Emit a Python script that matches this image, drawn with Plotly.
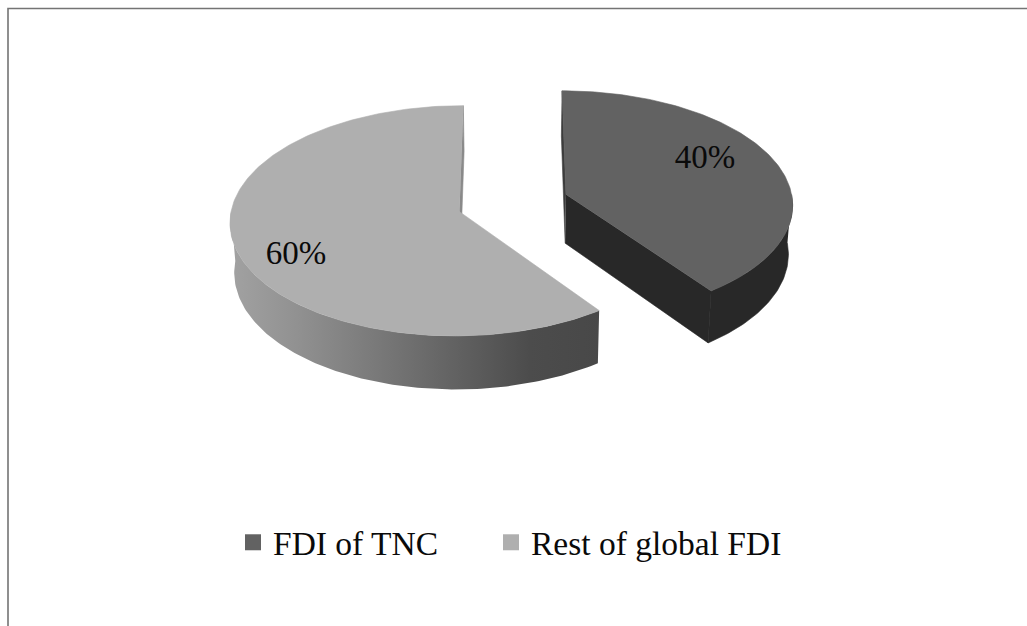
import numpy as np
import plotly.graph_objects as go

# ---- chart data ----
categories = ["FDI of TNC", "Rest of global FDI"]
values = [40, 60]
top_colors = ["#626262", "#afafaf"]
label_pos = [(705, 160), (296, 256)]

# ---- pseudo-3D pie projection ----
CX, CY = 513.0, 203.0
R = 227.0
EXPLODE = 56.0
K, P = 0.498, 0.000346
H = 49.0
BOTTOM_SCALE = 0.985


def project(a_deg, r, mid_deg, bottom=False):
    """Angle clockwise from the back of the pie, projected to the page."""
    a, m = np.radians(a_deg), np.radians(mid_deg)
    X = EXPLODE * np.sin(m) + r * np.sin(a)
    Z = -EXPLODE * np.cos(m) - r * np.cos(a)
    s = 1.0 / (1.0 - P * Z)
    x = CX + X * s
    y = CY + K * Z * s
    if bottom:
        x = CX + (x - CX) * BOTTOM_SCALE
        y = y + H * s
    return x, y


def poly(fig, xs, ys, color, **kw):
    fig.add_trace(go.Scatter(
        x=list(xs), y=list(ys), mode="lines", fill="toself", fillcolor=color,
        line=dict(color=color, width=0.6), hoverinfo="skip", showlegend=False, **kw))


fig = go.Figure()

total = sum(values)
spans = []
start = 0.0
for v in values:
    end = start + 360.0 * v / total
    spans.append((start, end, (start + end) / 2))
    start = end

# ---- FDI of TNC slice (dark) ----
a0, a1, mid = spans[0]
ax, ay = project(0, 0, mid)
bx, by = project(0, 0, mid, True)
p0 = project(a0, R, mid)
p1 = project(a0, R, mid, True)
poly(fig, [ax, p0[0], p1[0], bx], [ay, p0[1], p1[1], by], "#3c3c3c")
q = project(a1, R, mid)
qb = project(a1, R, mid, True)
poly(fig, [ax, q[0], qb[0], bx], [ay, q[1], qb[1], by], "#282828")
ang = np.arange(90, a1 + 0.01, 1.0)
t = project(ang, R, mid)
b = project(ang, R, mid, True)
poly(fig, np.r_[t[0], b[0][::-1]], np.r_[t[1], b[1][::-1]], "#282828")
ang = np.arange(a0, a1 + 0.01, 1.0)
t = project(ang, R, mid)
poly(fig, np.r_[ax, t[0]], np.r_[ay, t[1]], top_colors[0])

# ---- Rest of global FDI slice (light) ----
a0, a1, mid = spans[1]
ax, ay = project(0, 0, mid)
bx, by = project(0, 0, mid, True)
p0 = project(a1, R, mid)
p1 = project(a1, R, mid, True)
poly(fig, [ax, p0[0], p1[0], bx], [ay, p0[1], p1[1], by], "#8a8a8a")
# shaded arc wall with a horizontal gradient
ang = np.arange(a0, 270.01, 1.0)
t = project(ang, R, mid)
b = project(ang, R, mid, True)
fig.add_trace(go.Scatter(
    x=list(np.r_[t[0], b[0][::-1]]), y=list(np.r_[t[1], b[1][::-1]]),
    mode="lines", fill="toself", line=dict(width=0),
    fillgradient=dict(
        type="horizontal", start=230, stop=600,
        colorscale=[[0.0, "#a2a2a2"], [0.19, "#909090"], [0.46, "#727272"],
                    [0.81, "#4c4c4c"], [1.0, "#484848"]]),
    hoverinfo="skip", showlegend=False))
ang = np.arange(a0, a1 + 0.01, 1.0)
t = project(ang, R, mid)
poly(fig, np.r_[ax, t[0]], np.r_[ay, t[1]], top_colors[1])

# ---- percentage labels ----
for v, (lx, ly) in zip(values, label_pos):
    fig.add_trace(go.Scatter(
        x=[lx], y=[ly], mode="text", text=[f"{v}%"], hoverinfo="skip",
        textfont=dict(family="Liberation Serif", size=33, color="#0a0a0a"),
        showlegend=False))

# ---- legend entries, one legend each so they can sit where the reference has them ----
legend_ids = ["legend", "legend2"]
for name, col, lid in zip(categories, top_colors, legend_ids):
    fig.add_trace(go.Scatter(
        x=[None], y=[None], mode="markers", name=name, legend=lid,
        marker=dict(symbol="square", size=16, color=col)))

# ---- picture frame ----
frame_x = [8, 8, 1027]
frame_y = [626, 8.5, 8.5]
fig.add_trace(go.Scatter(x=frame_x, y=frame_y, mode="lines",
                         line=dict(color="#747474", width=1.6),
                         hoverinfo="skip", showlegend=False))

legend_font = dict(family="Liberation Serif", size=33.5, color="#0a0a0a")
common = dict(xanchor="left", yanchor="top", font=legend_font,
              bgcolor="rgba(0,0,0,0)", itemclick=False, itemdoubleclick=False)
fig.update_layout(
    width=1027, height=626,
    margin=dict(l=0, r=0, t=0, b=0),
    paper_bgcolor="white", plot_bgcolor="white",
    xaxis=dict(range=[0, 1027], visible=False, fixedrange=True),
    yaxis=dict(range=[626, 0], visible=False, fixedrange=True),
    legend=dict(x=233 / 1027, y=1 - 514 / 626, **common),
    legend2=dict(x=491 / 1027, y=1 - 514 / 626, **common),
)

fig.write_html("out.html", post_script="document.body.style.margin='0';",
               config=dict(displayModeBar=False))
